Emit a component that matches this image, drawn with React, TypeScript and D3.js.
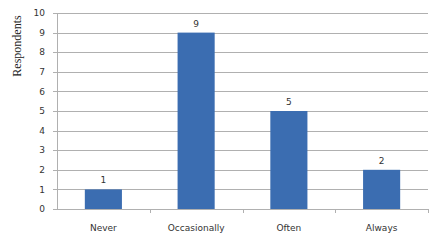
import React from "react";
import * as d3 from "d3";

const categories = ["Never", "Occasionally", "Often", "Always"];
const values = [1, 9, 5, 2];
const yTicks = [0, 1, 2, 3, 4, 5, 6, 7, 8, 9, 10];

export default function App() {
  const W = 440, H = 247;
  const left = 57, right = 428, top = 13, bottom = 209;
  const x = d3.scaleBand<string>().domain(categories).range([left, right]).paddingInner(0.6).paddingOuter(0.3);
  const xb = d3.scaleBand<string>().domain(categories).range([left, right]);
  const y = d3.scaleLinear().domain([0, 10]).range([bottom, top]);
  const font = "Verdana, 'DejaVu Sans', sans-serif";
  const grid = "#b0b0b0";
  return (
    <svg width={W} height={H} style={{ position: "absolute", left: 0, top: 0, background: "#fff" }}>
      {yTicks.map((t) => (
        <g key={t}>
          <line x1={left - 4} x2={right} y1={Math.round(y(t)) + 0.5} y2={Math.round(y(t)) + 0.5} stroke={grid} strokeWidth={1} />
          <text x={45} y={y(t)} dy="0.35em" textAnchor="end" fontFamily={font} fontSize={9} fill="#333">{t}</text>
        </g>
      ))}
      <line x1={left + 0.5} x2={left + 0.5} y1={top} y2={bottom + 0.5} stroke={grid} />
      {categories.map((c) => (
        <line key={c} x1={Math.round((xb(c) as number) + xb.bandwidth()) + 0.5} x2={Math.round((xb(c) as number) + xb.bandwidth()) + 0.5} y1={bottom} y2={bottom + 4} stroke={grid} />
      ))}
      {categories.map((c, i) => (
        <g key={c}>
          <rect x={x(c)} y={y(values[i])} width={x.bandwidth()} height={bottom - y(values[i])} fill="#3b6db1" />
          <text x={(x(c) as number) + x.bandwidth() / 2} y={y(values[i]) - 6} textAnchor="middle" fontFamily={font} fontSize={9} fill="#333">{values[i]}</text>
          <text x={(x(c) as number) + x.bandwidth() / 2} y={228} dy="0.35em" textAnchor="middle" fontFamily={font} fontSize={9} fill="#333">{c}</text>
        </g>
      ))}
      <text transform={`translate(21,46) rotate(-90)`} textAnchor="middle" fontFamily="'Liberation Serif', 'Times New Roman', serif" fontSize={12} fontWeight="normal" fill="#222">Respondents</text>
    </svg>
  );
}
